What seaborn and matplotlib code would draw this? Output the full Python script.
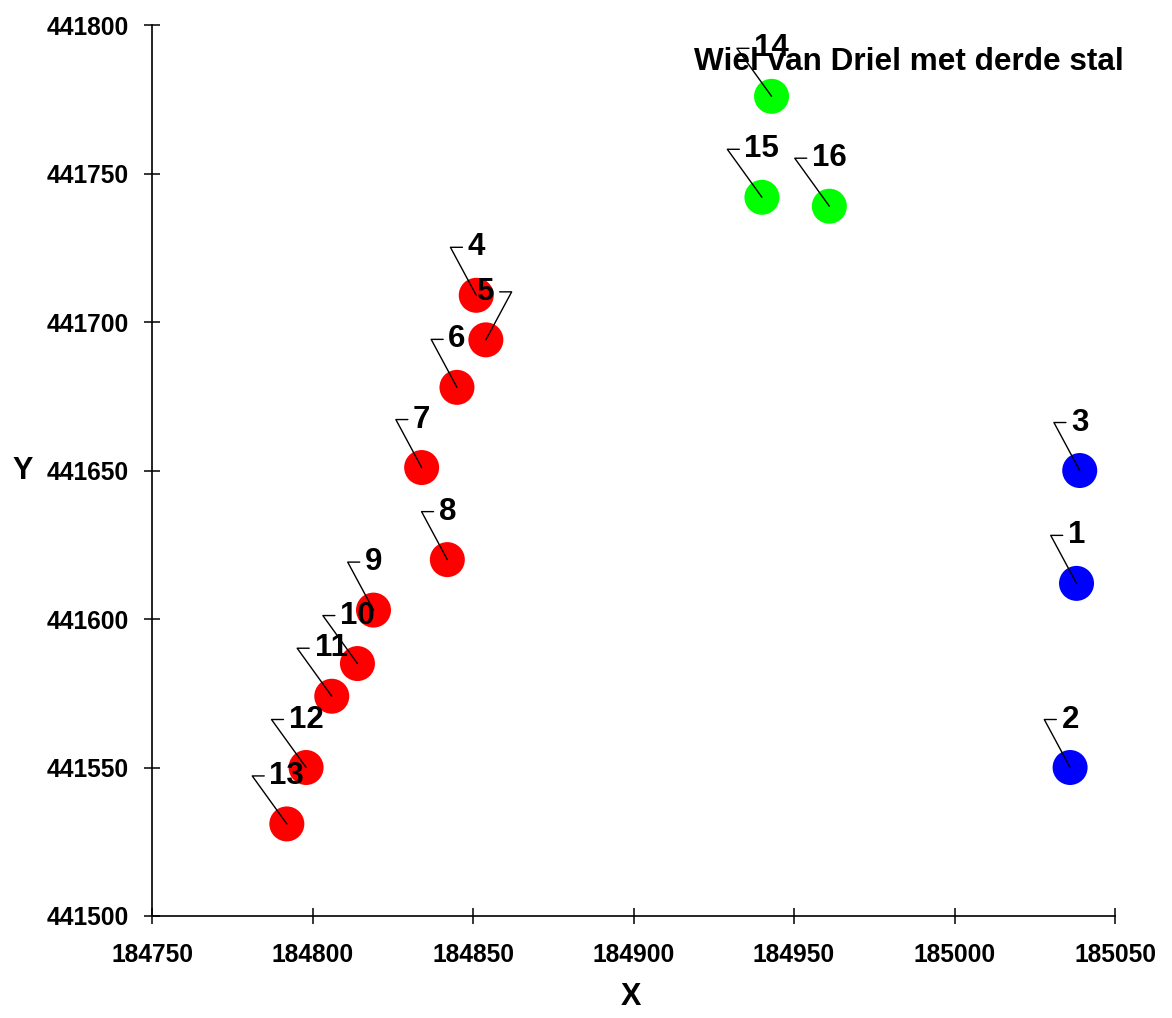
import matplotlib
matplotlib.use('Agg')
import matplotlib.pyplot as plt
import matplotlib.transforms as mtransforms
import seaborn as sb
import pandas as pd

point_ids = [1, 2, 3, 4, 5, 6, 7, 8, 9, 10, 11, 12, 13, 14, 15, 16]
x_coords = [185038, 185036, 185039, 184851, 184854, 184845, 184834, 184842,
            184819, 184814, 184806, 184798, 184792, 184943, 184940, 184961]
y_coords = [441612, 441550, 441650, 441709, 441694, 441678, 441651, 441620,
            441603, 441585, 441574, 441550, 441531, 441776, 441742, 441739]
groups = ['blauw'] * 3 + ['rood'] * 10 + ['groen'] * 3
label_side = ['L'] * 4 + ['R'] + ['L'] * 11
title_text = 'Wiel van Driel met derde stal'

df = pd.DataFrame({'id': point_ids, 'X': x_coords, 'Y': y_coords, 'groep': groups})
palette = {'blauw': '#0000ff', 'rood': '#ff0000', 'groen': '#00ff00'}

sb.set_style('ticks')
plt.rcParams['font.family'] = ['Liberation Sans', 'DejaVu Sans']
plt.rcParams['font.weight'] = 'bold'
plt.rcParams['text.color'] = 'black'
plt.rcParams['axes.labelcolor'] = 'black'
plt.rcParams['xtick.color'] = 'black'
plt.rcParams['ytick.color'] = 'black'

fig = plt.figure(figsize=(11.72, 10.18), dpi=100)
ax = fig.add_axes([0.1297, 0.1002, 0.8217, 0.8752])

sb.scatterplot(data=df, x='X', y='Y', hue='groep', palette=palette, s=635,
               linewidth=0, legend=False, ax=ax, zorder=2)

# labels met verbindingslijntjes
for pid, x, y, side in zip(point_ids, x_coords, y_coords, label_side):
    n = len(str(pid))
    half_w = 8.8 * n
    dy = 48
    cx = half_w + 17
    sign = -1 if side == 'L' else 1
    trans = mtransforms.Affine2D() + mtransforms.ScaledTranslation(x, y, ax.transData)
    ax.plot([0, sign * cx, sign * (cx - 12)], [0, dy, dy], color='black', lw=1.0,
            transform=trans, zorder=3, clip_on=False)
    ax.annotate(str(pid), xy=(x, y), xytext=(0, dy * 0.72), textcoords='offset points',
                ha='center', va='center', fontsize=22.5, fontweight='bold', zorder=4)

ax.text(0.786, 0.959, title_text, transform=ax.transAxes, ha='center', va='center',
        fontsize=22.7, fontweight='bold', zorder=5)

ax.set_xlim(184750, 185050)
ax.set_ylim(441500, 441800)
ax.set_xticks([184750, 184800, 184850, 184900, 184950, 185000, 185050])
ax.set_yticks([441500, 441550, 441600, 441650, 441700, 441750, 441800])
ax.ticklabel_format(useOffset=False, style='plain')
ax.tick_params(direction='inout', length=11.5, width=1.1, labelsize=17.7)
ax.tick_params(axis='x', pad=14)
ax.tick_params(axis='y', pad=11)
for lab in ax.get_xticklabels() + ax.get_yticklabels():
    lab.set_fontweight('bold')

sb.despine(ax=ax)
for sp in ['left', 'bottom']:
    ax.spines[sp].set_linewidth(1.2)
    ax.spines[sp].set_color('black')

ax.set_xlabel('X', fontsize=22, fontweight='bold', va='center', ha='center')
ax.set_ylabel('Y', fontsize=22, fontweight='bold', rotation=0, va='center', ha='center')
ax.xaxis.set_label_coords(0.497, -0.091)
ax.yaxis.set_label_coords(-0.134, 0.5)

plt.savefig('out.png', dpi=100)
